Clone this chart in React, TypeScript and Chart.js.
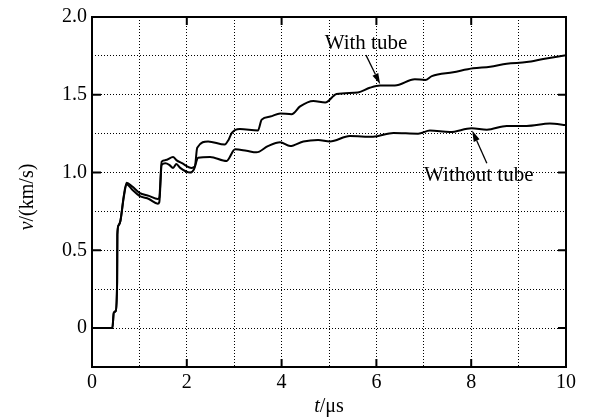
import React, { useEffect, useRef } from "react";
import { Chart, registerables } from "chart.js";

Chart.register(...registerables);

// ---- data ----
const tWith = [0, 0.43, 0.46, 0.5, 0.53, 0.535, 0.56, 0.6, 0.67, 0.73, 0.85, 1.0, 1.2, 1.39, 1.42, 1.47, 1.55, 1.71, 1.78, 1.9, 2.1, 2.17, 2.22, 2.45, 2.8, 2.88, 2.95, 3.12, 3.5, 3.58, 3.76, 3.97, 4.21, 4.39, 4.67, 4.92, 5.16, 5.61, 5.86, 6.08, 6.39, 6.81, 7.03, 7.17, 7.62, 8.04, 8.4, 8.75, 9.17, 9.52, 10];
const vWith = [0, 0, 0.1, 0.11, 0.3, 0.6, 0.66, 0.69, 0.85, 0.935, 0.91, 0.87, 0.85, 0.83, 0.84, 1.07, 1.08, 1.1, 1.08, 1.06, 1.03, 1.04, 1.16, 1.2, 1.18, 1.21, 1.255, 1.28, 1.27, 1.34, 1.36, 1.38, 1.375, 1.425, 1.46, 1.45, 1.505, 1.515, 1.545, 1.56, 1.56, 1.6, 1.595, 1.62, 1.645, 1.67, 1.68, 1.7, 1.71, 1.73, 1.755];

const tWithout = [0, 0.43, 0.46, 0.5, 0.53, 0.535, 0.56, 0.6, 0.67, 0.73, 0.85, 1.0, 1.2, 1.39, 1.42, 1.47, 1.55, 1.63, 1.71, 1.78, 1.86, 2.07, 2.15, 2.24, 2.49, 2.84, 3.02, 3.26, 3.47, 3.71, 3.97, 4.18, 4.46, 4.77, 5.02, 5.44, 5.93, 6.36, 6.88, 7.13, 7.55, 8.01, 8.33, 8.75, 9.17, 9.66, 10];
const vWithout = [0, 0, 0.1, 0.11, 0.3, 0.6, 0.66, 0.69, 0.84, 0.925, 0.89, 0.85, 0.83, 0.8, 0.81, 1.05, 1.06, 1.05, 1.03, 1.055, 1.03, 1.0, 1.02, 1.095, 1.1, 1.075, 1.15, 1.14, 1.13, 1.17, 1.195, 1.17, 1.2, 1.21, 1.2, 1.235, 1.23, 1.255, 1.25, 1.27, 1.26, 1.285, 1.275, 1.3, 1.3, 1.315, 1.305];

const xLabelValues = [0, 2, 4, 6, 8, 10];
const xLabelText = ["0", "2", "4", "6", "8", "10"];
const yLabelValues = [0, 0.5, 1.0, 1.5, 2.0];
const yLabelText = ["0", "0.5", "1.0", "1.5", "2.0"];

const annoText = ["With tube", "Without tube"];
const annoT = [5.78, 8.16];
const annoV = [1.83, 0.98];
const arrowFromT = [5.78, 8.33];
const arrowFromV = [1.755, 1.06];
const arrowToT = [6.08, 8.02];
const arrowToV = [1.568, 1.27];

const FONT = "'Liberation Serif', 'Times New Roman', serif";

function labelFor(values: number[], texts: string[], v: number) {
  for (let i = 0; i < values.length; i++) {
    if (Math.abs(values[i] - v) < 1e-6) return texts[i];
  }
  return "";
}

function drawMixed(ctx: CanvasRenderingContext2D, parts: { text: string; italic: boolean }[], cx: number, cy: number, size: number) {
  let total = 0;
  const widths: number[] = [];
  for (const p of parts) {
    ctx.font = `${p.italic ? "italic " : ""}${size}px ${FONT}`;
    const w = ctx.measureText(p.text).width;
    widths.push(w);
    total += w;
  }
  let x = cx - total / 2;
  ctx.textAlign = "left";
  ctx.textBaseline = "middle";
  parts.forEach((p, i) => {
    ctx.font = `${p.italic ? "italic " : ""}${size}px ${FONT}`;
    ctx.fillText(p.text, x, cy);
    x += widths[i];
  });
}

const framePlugin = {
  id: "frameAndAnno",
  afterDraw(chart: any) {
    const ctx: CanvasRenderingContext2D = chart.ctx;
    const { left, right, top, bottom } = chart.chartArea;
    const xs = chart.scales.x;
    const ys = chart.scales.y;
    ctx.save();
    ctx.strokeStyle = "#000";
    ctx.fillStyle = "#000";
    // frame
    ctx.lineWidth = 2;
    ctx.strokeRect(left, top, right - left, bottom - top);
    // inward ticks
    ctx.lineWidth = 2;
    ctx.beginPath();
    for (const v of xLabelValues) {
      const px = xs.getPixelForValue(v);
      ctx.moveTo(px, bottom);
      ctx.lineTo(px, bottom - 8);
      ctx.moveTo(px, top);
      ctx.lineTo(px, top + 8);
    }
    for (const v of yLabelValues) {
      const py = ys.getPixelForValue(v);
      ctx.moveTo(left, py);
      ctx.lineTo(left + 9, py);
      ctx.moveTo(right, py);
      ctx.lineTo(right - 8, py);
    }
    ctx.stroke();

    // annotations
    ctx.font = `21px ${FONT}`;
    ctx.textAlign = "center";
    ctx.textBaseline = "middle";
    annoText.forEach((txt, i) => {
      ctx.fillText(txt, xs.getPixelForValue(annoT[i]), ys.getPixelForValue(annoV[i]));
    });
    // arrows
    for (let i = 0; i < arrowFromT.length; i++) {
      const x0 = xs.getPixelForValue(arrowFromT[i]);
      const y0 = ys.getPixelForValue(arrowFromV[i]);
      const x1 = xs.getPixelForValue(arrowToT[i]);
      const y1 = ys.getPixelForValue(arrowToV[i]);
      const ang = Math.atan2(y1 - y0, x1 - x0);
      const hl = 11;
      const hw = 3.2;
      const bx = x1 - hl * Math.cos(ang);
      const by = y1 - hl * Math.sin(ang);
      ctx.lineWidth = 1.3;
      ctx.beginPath();
      ctx.moveTo(x0, y0);
      ctx.lineTo(bx, by);
      ctx.stroke();
      ctx.beginPath();
      ctx.moveTo(x1, y1);
      ctx.lineTo(bx + hw * Math.sin(ang), by - hw * Math.cos(ang));
      ctx.lineTo(bx - hw * Math.sin(ang), by + hw * Math.cos(ang));
      ctx.closePath();
      ctx.fill();
    }

    // axis titles
    drawMixed(ctx, [{ text: "t", italic: true }, { text: "/μs", italic: false }], (left + right) / 2, bottom + 40, 20);
    ctx.save();
    ctx.translate(left - 64, (top + bottom) / 2 + 5);
    ctx.rotate(-Math.PI / 2);
    drawMixed(ctx, [{ text: "v", italic: true }, { text: "/(km/s)", italic: false }], 0, 0, 20);
    ctx.restore();
    ctx.restore();
  },
};

export default function App() {
  const ref = useRef<HTMLCanvasElement | null>(null);
  useEffect(() => {
    if (!ref.current) return;
    const gridColor = "#000";
    const chart = new Chart(ref.current, {
      type: "line",
      data: {
        datasets: [
          {
            label: "With tube",
            data: tWith.map((t, i) => ({ x: t, y: vWith[i] })),
            borderColor: "#000",
            borderWidth: 2,
            pointRadius: 0,
            cubicInterpolationMode: "monotone",
            fill: false,
          },
          {
            label: "Without tube",
            data: tWithout.map((t, i) => ({ x: t, y: vWithout[i] })),
            borderColor: "#000",
            borderWidth: 2,
            pointRadius: 0,
            cubicInterpolationMode: "monotone",
            fill: false,
          },
        ],
      },
      options: {
        animation: false,
        responsive: false,
        events: [],
        layout: { padding: { left: 0, top: 15, right: 23, bottom: 0 } },
        plugins: { legend: { display: false }, tooltip: { enabled: false } },
        scales: {
          x: {
            type: "linear",
            min: 0,
            max: 10,
            afterFit: (s: any) => {
              s.height = 52;
            },
            ticks: {
              stepSize: 1,
              autoSkip: false,
              maxRotation: 0,
              color: "#000",
              padding: 4,
              font: { family: FONT, size: 20 },
              callback: (v: any) => labelFor(xLabelValues, xLabelText, Number(v)),
            },
            grid: { color: gridColor, lineWidth: 1, drawTicks: false },
            border: { display: false, dash: [1, 2] },
          },
          y: {
            type: "linear",
            min: -0.25,
            max: 2.0,
            afterFit: (s: any) => {
              s.width = 92;
            },
            ticks: {
              stepSize: 0.25,
              autoSkip: false,
              color: "#000",
              padding: 5,
              font: { family: FONT, size: 20 },
              callback: (v: any) => labelFor(yLabelValues, yLabelText, Number(v)),
            },
            grid: { color: gridColor, lineWidth: 1, drawTicks: false },
            border: { display: false, dash: [1, 2] },
          },
        },
      },
      plugins: [framePlugin],
    } as any);
    return () => chart.destroy();
  }, []);
  return (
    <div style={{ position: "absolute", left: 0, top: 0, width: 589, height: 419, background: "#fff" }}>
      <canvas ref={ref} width={589} height={419} />
    </div>
  );
}
